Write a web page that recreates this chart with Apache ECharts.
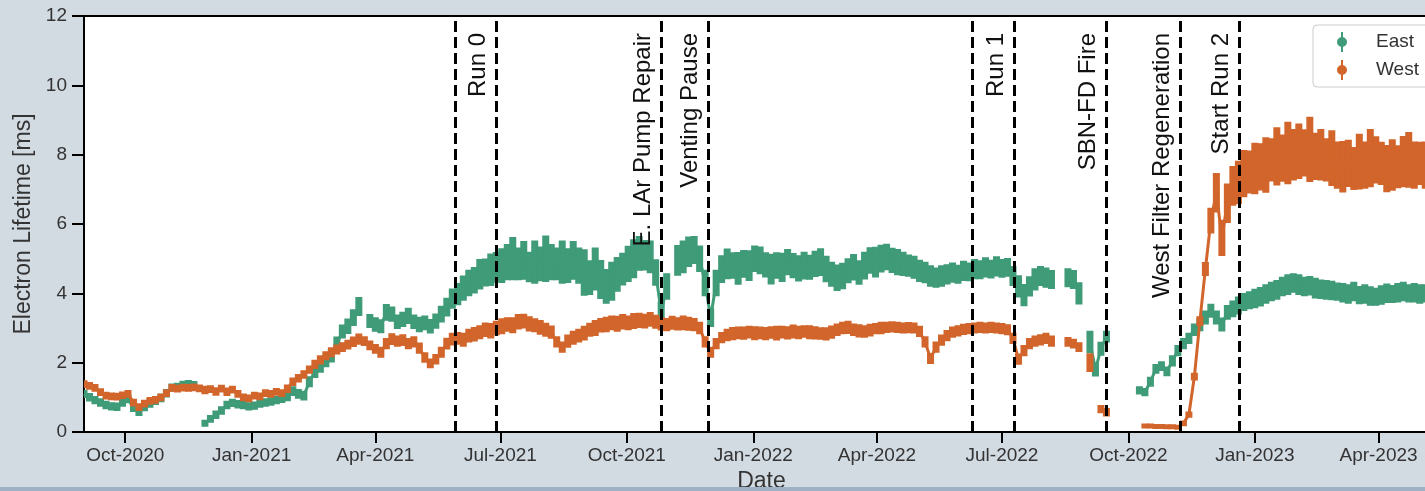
<!DOCTYPE html>
<html><head><meta charset="utf-8">
<script src="https://cdn.jsdelivr.net/npm/echarts@6.0.0/dist/echarts.min.js"></script>
<style>
html,body{margin:0;padding:0;overflow:hidden;background:#d2dae2;width:1425px;height:491px;}
#c{position:absolute;left:0;top:0;width:1460px;height:491px;}
#strip{position:absolute;left:0;bottom:0;width:1425px;height:4px;background:#9fb1c4;}
</style>
</head><body><div id="c"></div><div id="strip"></div>
<script>
// ---- data (4-day samples starting 2020-09-01; null = no measurement) ----
const startDate = '2020-09-01';
const stepDays = 4;
const eastValues = [
1.10,1.00,0.92,0.85,0.78,0.74,0.73,0.85,0.95,0.70,
0.58,0.72,0.82,0.90,0.98,1.12,1.28,1.30,1.35,1.38,
1.35,null,0.25,0.38,0.50,0.62,0.78,0.84,0.80,0.78,
0.74,0.76,0.82,0.85,0.88,0.92,0.96,1.02,1.18,1.10,
1.05,1.45,1.72,1.88,2.05,2.20,2.55,2.90,3.05,3.30,
3.62,null,3.20,3.10,3.05,3.45,3.40,3.18,3.25,3.35,
3.18,3.10,3.15,3.05,3.20,3.40,3.60,3.85,3.98,4.15,
4.30,4.38,4.55,4.60,4.68,4.75,4.80,4.90,5.00,4.85,
4.95,4.76,4.90,4.85,5.00,4.90,4.85,4.90,4.80,4.95,
4.80,4.60,4.45,4.70,4.40,4.20,4.35,4.55,4.70,4.85,
5.00,5.15,5.10,5.05,4.60,3.45,4.20,null,4.95,5.05,
5.20,5.25,5.00,4.30,3.30,4.30,4.70,4.85,4.80,4.72,
4.85,4.80,5.00,4.95,4.82,4.70,4.80,4.75,4.90,4.80,
4.72,4.80,4.75,4.85,4.90,4.70,4.55,4.45,4.50,4.65,
4.75,4.60,4.80,4.95,4.90,5.00,5.05,4.95,4.90,4.85,
4.80,4.75,4.65,4.60,4.50,4.45,4.50,4.55,4.60,4.55,
4.65,4.62,4.70,4.68,4.75,4.70,4.78,4.72,4.75,4.50,
4.20,3.95,4.20,4.40,4.50,4.45,4.40,null,null,4.45,
4.40,4.00,null,2.60,1.80,2.40,2.75,null,null,null,
null,null,1.20,1.15,1.45,1.82,1.90,1.75,2.05,2.35,
2.55,2.70,2.95,3.10,3.30,3.50,3.30,3.10,3.45,3.55,
3.65,3.75,3.80,3.85,3.90,3.98,4.05,4.10,4.20,4.25,
4.30,4.25,4.20,4.22,4.15,4.12,4.10,4.08,4.05,4.02,
3.98,4.05,3.95,3.98,3.92,3.90,3.95,4.00,3.98,4.02,
4.05,4.00,4.02,3.98,4.00,4.00,4.00
];
const eastErrors = [
.10,.10,.10,.10,.10,.10,.10,.10,.10,.10,
.10,.10,.10,.10,.10,.10,.10,.10,.11,.10,
.10,0,.08,.09,.10,.10,.10,.10,.10,.10,
.10,.10,.10,.10,.10,.10,.10,.11,.12,.12,
.12,.14,.14,.15,.16,.17,.18,.18,.20,.22,
.25,0,.18,.19,.18,.22,.20,.19,.20,.21,
.19,.20,.19,.19,.20,.22,.25,.27,.30,.34,
.36,.36,.42,.38,.45,.42,.48,.50,.60,.45,
.54,.42,.60,.48,.65,.50,.45,.60,.48,.54,
.50,.65,.48,.60,.54,.48,.54,.48,.45,.50,
.54,.48,.42,.45,.36,.30,.36,0,.42,.45,
.42,.38,.36,.36,.25,.36,.38,.42,.36,.45,
.38,.42,.36,.38,.34,.42,.36,.40,.36,.34,
.36,.38,.34,.36,.38,.36,.34,.36,.36,.34,
.36,.33,.38,.36,.42,.38,.36,.34,.36,.33,
.30,.31,.30,.29,.29,.27,.29,.27,.27,.25,
.27,.25,.27,.25,.27,.25,.27,.25,.25,.27,
.30,.30,.27,.30,.27,.27,.25,0,0,.25,
.25,.30,0,.30,.18,.18,.15,0,0,0,
0,0,.10,.10,.12,.12,.12,.12,.14,.14,
.14,.14,.16,.17,.18,.18,.18,.18,.19,.22,
.24,.24,.24,.26,.26,.26,.26,.26,.26,.28,
.26,.28,.26,.26,.28,.26,.26,.26,.24,.26,
.26,.26,.24,.26,.26,.24,.26,.26,.24,.26,
.26,.24,.26,.26,.24,.26,.24
];
const westValues = [
1.38,1.33,1.27,1.15,1.05,1.03,1.02,1.06,1.10,0.85,
0.72,0.82,0.90,0.93,1.00,1.12,1.27,1.25,1.28,1.27,
1.29,1.26,1.21,1.24,1.17,1.25,1.16,1.22,1.10,1.00,
0.97,1.05,1.03,1.12,1.10,1.16,1.12,1.25,1.45,1.55,
1.66,1.80,1.95,2.08,2.20,2.30,2.38,2.45,2.52,2.60,
2.68,2.62,2.50,2.40,2.30,2.55,2.68,2.62,2.65,2.55,
2.60,2.42,2.15,1.98,2.10,2.30,2.55,2.68,2.70,2.66,
2.78,2.82,2.88,2.95,2.92,3.00,3.05,3.10,3.08,3.18,
3.20,3.12,3.08,3.02,2.95,2.88,2.60,2.45,2.62,2.72,
2.78,2.85,2.95,3.00,3.08,3.10,3.15,3.12,3.18,3.15,
3.20,3.22,3.20,3.25,3.18,3.12,3.10,3.15,3.12,3.15,
3.12,3.10,3.00,2.60,2.30,2.55,2.72,2.80,2.84,2.86,
2.85,2.88,2.85,2.86,2.84,2.87,2.85,2.88,2.86,2.90,
2.87,2.90,2.88,2.86,2.84,2.83,2.88,2.95,3.00,3.02,
2.95,2.92,2.90,2.94,2.98,3.00,3.02,3.03,3.02,3.00,
3.01,3.00,2.90,2.60,2.12,2.45,2.65,2.78,2.88,2.92,
2.96,2.98,3.00,3.02,3.00,3.02,3.00,2.98,2.95,2.70,
2.10,2.35,2.55,2.62,2.66,2.70,2.62,null,null,2.60,
2.55,2.45,null,2.00,null,0.66,0.57,null,null,null,
null,null,null,0.17,0.17,0.16,0.16,0.15,0.15,0.14,
0.25,0.50,1.60,3.20,4.70,6.10,6.90,5.60,6.60,7.10,
7.20,7.45,7.50,7.60,7.65,7.70,7.85,7.95,7.90,8.05,
8.00,8.10,8.05,8.15,7.95,8.00,7.85,7.90,7.70,7.65,
7.75,7.60,7.80,7.70,7.90,7.85,7.75,7.60,7.70,7.65,
7.80,7.85,7.70,7.75,7.70,7.72,7.70
];
const westErrors = [
.09,.09,.09,.09,.09,.09,.09,.09,.09,.09,
.09,.09,.09,.09,.09,.09,.09,.09,.09,.09,
.09,.09,.10,.09,.10,.09,.10,.09,.09,.09,
.09,.09,.09,.09,.09,.09,.09,.10,.10,.10,
.10,.10,.11,.11,.11,.12,.12,.12,.12,.13,
.14,.12,.12,.12,.14,.14,.15,.14,.15,.14,
.14,.14,.13,.12,.13,.14,.15,.16,.16,.18,
.18,.19,.18,.19,.20,.19,.21,.19,.21,.20,
.19,.20,.18,.19,.18,.17,.14,.14,.17,.18,
.18,.19,.18,.21,.19,.20,.19,.21,.20,.19,
.21,.20,.19,.19,.18,.17,.17,.18,.17,.19,
.18,.17,.16,.14,.14,.14,.14,.16,.17,.16,
.17,.16,.18,.16,.17,.16,.19,.16,.17,.18,
.17,.16,.18,.17,.16,.17,.17,.16,.16,.17,
.16,.17,.16,.16,.14,.16,.14,.14,.14,.14,
.14,.14,.14,.14,.14,.14,.14,.14,.14,.14,
.14,.14,.14,.14,.14,.14,.14,.14,.14,.14,
.14,.14,.14,.14,.14,.14,.14,0,0,.12,
.12,.12,0,.25,0,.10,.10,0,0,0,
0,0,0,.05,.05,.05,.05,.05,.05,.05,
.06,.07,.09,.12,.18,.35,.55,.50,.55,.55,
.60,.66,.60,.72,.66,.78,.60,.82,.66,.88,
.72,.78,.66,.92,.66,.72,.60,.78,.66,.72,
.66,.60,.78,.66,.82,.66,.60,.66,.72,.60,
.72,.78,.66,.60,.66,.66,.66
];
const tickDates = ['2020-10-01','2021-01-01','2021-04-01','2021-07-01','2021-10-01','2022-01-01','2022-04-01','2022-07-01','2022-10-01','2023-01-01','2023-04-01'];
const tickLabels = ['Oct-2020','Jan-2021','Apr-2021','Jul-2021','Oct-2021','Jan-2022','Apr-2022','Jul-2022','Oct-2022','Jan-2023','Apr-2023'];
const eventDates = ['2021-05-29','2021-06-28','2021-10-26','2021-11-29','2022-06-09','2022-07-10','2022-09-15','2022-11-08','2022-12-21'];
const eventLabels = ['','Run 0','E. LAr Pump Repair','Venting Pause','','Run 1','SBN-FD Fire','West Filter Regeneration','Start Run 2'];
const axisStart = '2020-09-01';
const axisEnd = '2023-05-15';
const yMin = 0, yMax = 12, yStep = 2;

// ---- build ----
const DAY = 86400000;
function ts(s){ const p = s.split('-').map(Number); return Date.UTC(p[0], p[1]-1, p[2]); }
const t0 = ts(startDate);
function dateAt(i){ return t0 + i*stepDays*DAY; }
function barData(vals, errs){ const out=[]; vals.forEach((v,i)=>{ if(v!==null) out.push([dateAt(i), v, errs[i]]); }); return out; }
function lineData(vals){ return vals.map((v,i)=>[dateAt(i), v===null ? '-' : v]); }
const tickTs = tickDates.map(ts);
const labelByTs = {}; tickTs.forEach((t,k)=>{ labelByTs[t]=tickLabels[k]; });

const GREEN = '#3f9b78', ORANGE = '#d2652b';
const FONT = 'Liberation Sans, Arial, sans-serif';
function makeRenderer(color){
  return function(params, api){
    const t = api.value(0), v = api.value(1), e = api.value(2);
    const top = api.coord([t, v + e]);
    const bot = api.coord([t, v - e]);
    const w = api.size([stepDays*DAY, 0])[0];
    return {type:'rect', shape:{x: top[0]-w/2, y: top[1], width: w, height: Math.max(bot[1]-top[1], 3)},
            style:{fill: color, stroke: color, lineWidth: 1.5}};
  };
}
const ICON = 'path://M9,0L11,0L11,20L9,20Z M10,5A5,5 0 1 1 10,15A5,5 0 1 1 10,5Z';

const chart = echarts.init(document.getElementById('c'), null, {renderer:'canvas'});
chart.setOption({
  animation: false,
  backgroundColor: 'transparent',
  textStyle: {fontFamily: FONT},
  grid: {left: 84, right: 21, top: 16, bottom: 59, show: true, backgroundColor: '#ffffff', borderColor: '#000', borderWidth: 2,
         containLabel: false, outerBoundsMode: 'none'},
  legend: {
    left: 1313, top: 25, orient: 'vertical', itemWidth: 10, itemHeight: 20, itemGap: 8,
    padding: [7, 40, 7, 24], borderColor: '#cccccc', borderWidth: 1, borderRadius: 4,
    backgroundColor: 'rgba(255,255,255,0.85)',
    textStyle: {fontSize: 19, color: '#333', fontFamily: FONT, padding: [0,0,0,24], lineHeight: 20},
    data: [{name:'East', icon: ICON}, {name:'West', icon: ICON}]
  },
  xAxis: {
    type: 'value', min: ts(axisStart), max: ts(axisEnd),
    name: 'Date', nameLocation: 'middle', nameGap: 37,
    nameTextStyle: {fontSize: 23, color: '#333', fontFamily: FONT},
    axisLine: {show: true, lineStyle: {color: '#000', width: 2}},
    axisTick: {show: true, length: 11, lineStyle: {color: '#000', width: 2}, customValues: tickTs},
    axisLabel: {fontSize: 19, color: '#333', margin: 14, fontFamily: FONT, customValues: tickTs,
      formatter: function(v){ return labelByTs[v] || ''; }},
    splitLine: {show: false}
  },
  yAxis: {
    type: 'value', min: yMin, max: yMax, interval: yStep,
    name: 'Electron Lifetime [ms]', nameLocation: 'middle', nameGap: 47,
    nameTextStyle: {fontSize: 23, color: '#333', fontFamily: FONT},
    axisLine: {show: true, lineStyle: {color: '#000', width: 2}},
    axisTick: {show: true, length: 12, lineStyle: {color: '#000', width: 2}},
    axisLabel: {fontSize: 19, color: '#333', margin: 17, fontFamily: FONT},
    splitLine: {show: false}
  },
  series: [
    {name:'East', type:'custom', renderItem: makeRenderer(GREEN), data: barData(eastValues, eastErrors),
     itemStyle:{color: GREEN}, encode:{x:0, y:1}, clip: true, z: 2},
    {name:'East', type:'line', data: lineData(eastValues), showSymbol: false, connectNulls: false,
     lineStyle:{color: GREEN, width: 3}, itemStyle:{color: GREEN}, z: 2},
    {name:'West', type:'custom', renderItem: makeRenderer(ORANGE), data: barData(westValues, westErrors),
     itemStyle:{color: ORANGE}, encode:{x:0, y:1}, clip: true, z: 3},
    {name:'West', type:'line', data: lineData(westValues), showSymbol: false, connectNulls: false,
     lineStyle:{color: ORANGE, width: 3}, itemStyle:{color: ORANGE}, z: 3,
     markLine: {
       silent: true, symbol: ['none','none'], animation: false,
       lineStyle: {color: '#000', width: 3, type: [11, 5]},
       label: {show: true, position: 'insideEndTop', fontSize: 24, color: '#111', fontFamily: FONT, distance: [17, 6]},
       data: eventDates.map((d,k)=>({xAxis: ts(d), label: {show: eventLabels[k] !== '', formatter: eventLabels[k]}}))
     }}
  ]
});
</script>
</body></html>
